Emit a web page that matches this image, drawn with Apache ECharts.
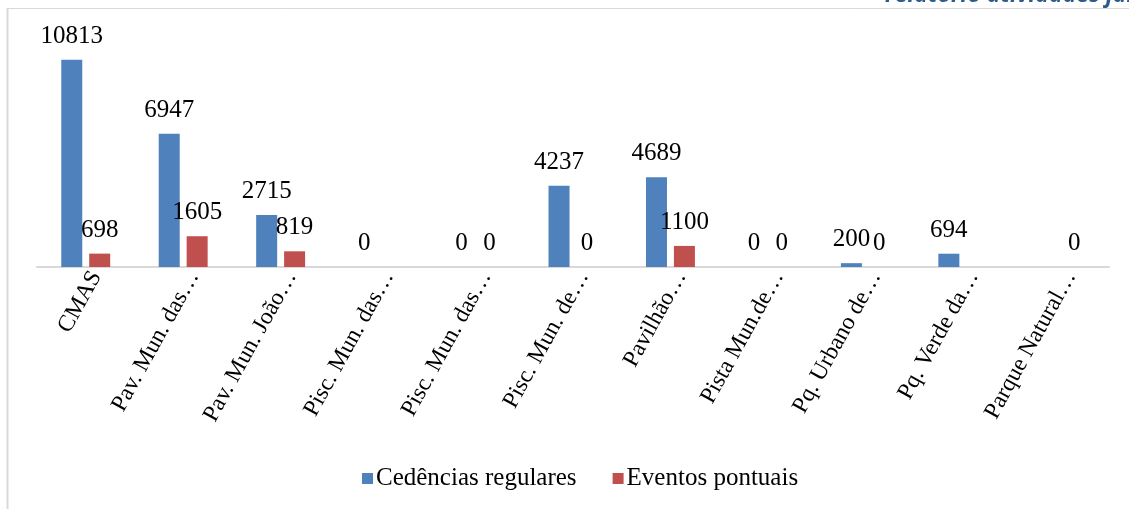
<!DOCTYPE html>
<html>
<head>
<meta charset="utf-8">
<script src="https://cdn.jsdelivr.net/npm/echarts@6/dist/echarts.min.js"></script>
<style>
  html, body { margin: 0; padding: 0; background: #fff; }
  #chart { width: 1129px; height: 509px; }
</style>
</head>
<body>
<div id="chart"></div>
<script>
const categories = [
  'CMAS', 'Pav. Mun. das…', 'Pav. Mun. João…', 'Pisc. Mun. das…', 'Pisc. Mun. das…',
  'Pisc. Mun. de…', 'Pavilhão…', 'Pista Mun.de…', 'Pq. Urbano de…', 'Pq. Verde da…', 'Parque Natural…'
]
// null = no value in the source table (no bar, no label)
const cedencias = [10813, 6947, 2715, 0, 0, 4237, 4689, 0, 200, 694, null]
const eventos = [698, 1605, 819, null, 0, 0, 1100, 0, 0, null, 0]

const serif = '"Liberation Serif", "DejaVu Serif", serif'

const chart = echarts.init(document.getElementById('chart'))

const labelStyle = {
  show: true,
  position: 'top',
  distance: 11,
  color: '#000',
  fontFamily: serif,
  fontSize: 25,
  lineHeight: 25
}

chart.setOption({
  animation: false,
  backgroundColor: '#fff',
  graphic: [
    // frame of the embedded chart (left + top edge)
    { type: 'line', shape: { x1: 7.5, y1: 8.5, x2: 7.5, y2: 509 }, style: { stroke: '#d9d9d9', lineWidth: 2 } },
    { type: 'line', shape: { x1: 7, y1: 8.5, x2: 1129, y2: 8.5 }, style: { stroke: '#d9d9d9', lineWidth: 1 } },
    // page header cut off above the chart
    {
      type: 'text', x: 885, y: 7,
      style: {
        text: 'relatório atividades janeiro',
        fill: '#2c5c8c',
        verticalAlign: 'bottom',
        font: 'italic bold 23px "Open Sans", sans-serif'
      }
    }
  ],
  grid: { left: 37, right: 20, top: 37, bottom: 242, containLabel: false },
  legend: {
    left: 357,
    top: 461,
    icon: 'rect',
    itemWidth: 11,
    itemHeight: 11,
    itemGap: 36,
    textStyle: { fontFamily: serif, fontSize: 25, color: '#000', padding: [0, 0, 0, -2] },
    data: ['Cedências regulares', 'Eventos pontuais']
  },
  xAxis: {
    type: 'category',
    data: categories,
    axisLine: { lineStyle: { color: '#d9d9d9', width: 2 } },
    axisTick: { show: false },
    axisLabel: {
      interval: 0,
      rotate: 61,
      margin: 0,
      verticalAlign: 'top',
      color: '#000',
      fontFamily: serif,
      fontSize: 23.5
    }
  },
  yAxis: {
    type: 'value',
    min: 0,
    max: 12000,
    show: false,
    splitLine: { show: false }
  },
  series: [
    {
      name: 'Cedências regulares',
      type: 'bar',
      data: cedencias,
      barWidth: 21,
      barGap: '33%',
      itemStyle: { color: '#4f81bd' },
      label: labelStyle
    },
    {
      name: 'Eventos pontuais',
      type: 'bar',
      data: eventos,
      barWidth: 21,
      itemStyle: { color: '#c0504d' },
      label: labelStyle
    }
  ]
})
</script>
</body>
</html>
